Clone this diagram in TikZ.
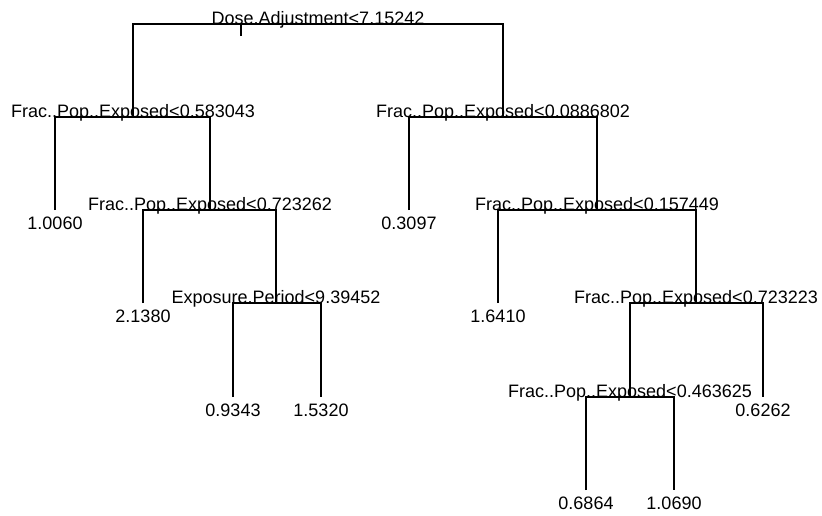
\documentclass[tikz,border=0pt]{standalone}
\usepackage{fontspec}
\setmainfont{Liberation Sans}

\begin{document}
\begin{tikzpicture}[
  x=1pt, y=-1pt,
  branch/.style={line width=1.1pt},
  split/.style={anchor=base, inner sep=0pt, font=\fontsize{18}{20}\selectfont},
  leaf/.style={anchor=base, inner sep=0pt, yshift=-19pt, font=\fontsize{18}{20}\selectfont}
  ]
  \useasboundingbox (0,0) rectangle (822,515);

  % tree nodes, numbered the way R numbers them
  \coordinate (n1) at (318,24);
  \coordinate (stem) at (241,36);
  \coordinate (n2) at (133,117);  \coordinate (n3) at (503,117);
  \coordinate (n4) at (55,210);   \coordinate (n5) at (210,210);
  \coordinate (n6) at (409,210);  \coordinate (n7) at (597,210);
  \coordinate (n10) at (143,303); \coordinate (n11) at (276,303);
  \coordinate (n14) at (498,303); \coordinate (n15) at (696,303);
  \coordinate (n22) at (233,397); \coordinate (n23) at (321,397);
  \coordinate (n30) at (630,397); \coordinate (n31) at (763,397);
  \coordinate (n60) at (586,490); \coordinate (n61) at (674,490);

  % branches
  \draw[branch] (stem) -- (stem |- n1);
  \foreach \p/\a/\b in {n1/n2/n3, n2/n4/n5, n3/n6/n7, n5/n10/n11,
                        n7/n14/n15, n11/n22/n23, n15/n30/n31, n30/n60/n61}
    \draw[branch] (\a) -- (\a |- \p) -- (\b |- \p) -- (\b);

  % split rules
  \node[split] (s1) at (n1) {Dose.Adjustment<7.15242};
  \node[split] (s2) at (n2) {Frac..Pop..Exposed<0.583043};
  \node[split] (s3) at (n3) {Frac..Pop..Exposed<0.0886802};
  \node[split] (s5) at (n5) {Frac..Pop..Exposed<0.723262};
  \node[split] (s7) at (n7) {Frac..Pop..Exposed<0.157449};
  \node[split] (s11) at (n11) {Exposure.Period<9.39452};
  \node[split] (s15) at (n15) {Frac..Pop..Exposed<0.723223};
  \node[split] (s30) at (n30) {Frac..Pop..Exposed<0.463625};

  % fitted values
  \node[leaf] (v4) at (n4) {1.0060};
  \node[leaf] (v6) at (n6) {0.3097};
  \node[leaf] (v10) at (n10) {2.1380};
  \node[leaf] (v14) at (n14) {1.6410};
  \node[leaf] (v22) at (n22) {0.9343};
  \node[leaf] (v23) at (n23) {1.5320};
  \node[leaf] (v31) at (n31) {0.6262};
  \node[leaf] (v60) at (n60) {0.6864};
  \node[leaf] (v61) at (n61) {1.0690};
\end{tikzpicture}
\end{document}
